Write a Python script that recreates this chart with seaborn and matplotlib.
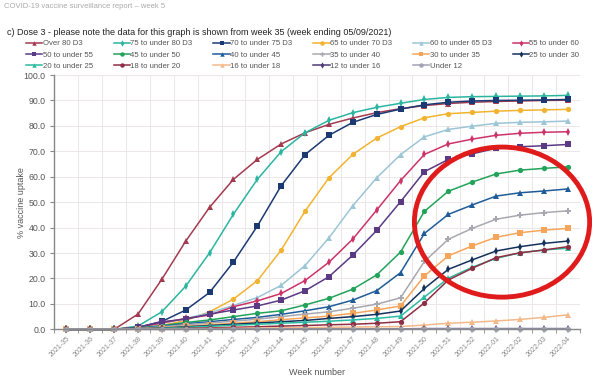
import numpy as np
import pandas as pd
import seaborn as sns
import matplotlib.pyplot as plt
from matplotlib.patches import Ellipse
from matplotlib.ticker import FormatStrFormatter, FixedLocator
###########################################################################

WEEKS = ["2021-35", "2021-36", "2021-37", "2021-38", "2021-39", "2021-40", "2021-41",
         "2021-42", "2021-43", "2021-44", "2021-45", "2021-46", "2021-47", "2021-48",
         "2021-49", "2021-50", "2021-51", "2021-52", "2022-01", "2022-02", "2022-03",
         "2022-04"]

GROUPS = ["Over 80 D3", "75 to under 80 D3", "70 to under 75 D3", "65 to under 70 D3",
          "60 to under 65 D3", "55 to under 60", "50 to under 55", "45 to under 50",
          "40 to under 45", "35 to under 40", "30 to under 35", "25 to under 30",
          "20 to under 25", "18 to under 20", "16 to under 18", "12 to under 16",
          "Under 12"]

over80 = [0, 0, 0, 6.0, 19.7, 34.7, 48.0, 59.0, 66.8, 72.9, 77.3, 80.6, 83.1, 85.2, 86.8, 88.0, 88.8, 89.3, 89.6, 89.8, 90.0, 90.1]
age75 = [0, 0, 0, 1.3, 6.9, 17.0, 30.1, 45.3, 59.0, 69.9, 77.3, 82.2, 85.2, 87.3, 88.9, 90.4, 91.2, 91.5, 91.6, 91.7, 91.8, 92.0]
age70 = [0, 0, 0, 0.8, 3.1, 7.6, 14.5, 26.5, 40.6, 56.5, 68.7, 76.3, 81.4, 84.5, 86.6, 88.3, 89.3, 89.8, 90.0, 90.1, 90.2, 90.4]
age65 = [0, 0, 0, 0.3, 1.5, 3.5, 6.9, 11.9, 19.1, 31.2, 46.5, 59.6, 68.8, 75.2, 79.7, 83.2, 84.8, 85.3, 85.8, 86.1, 86.3, 86.5]
age60 = [0, 0, 0, 0.8, 2.3, 4.3, 6.5, 9.4, 12.5, 17.3, 25.1, 36.0, 48.6, 59.6, 68.7, 75.7, 78.6, 79.9, 81.0, 81.4, 81.6, 81.9]
age55 = [0, 0, 0, 0.8, 2.5, 4.3, 5.6, 8.9, 11.2, 14.1, 19.2, 26.4, 35.5, 46.9, 58.5, 68.8, 72.9, 74.8, 76.3, 77.1, 77.5, 77.7]
age50 = [0, 0, 0, 0.8, 3.0, 4.0, 6.0, 7.6, 9.2, 11.5, 15.2, 20.7, 29.2, 38.9, 50.2, 62.0, 66.8, 69.0, 71.2, 71.8, 72.2, 72.7]
age45 = [0, 0, 0, 0.5, 1.5, 2.7, 3.7, 5.0, 6.3, 7.3, 9.6, 12.2, 15.8, 21.4, 30.4, 46.4, 54.3, 57.9, 61.1, 62.6, 63.3, 63.9]
age40 = [0, 0, 0, 0.4, 1.2, 2.2, 3.0, 3.9, 4.7, 5.9, 7.3, 8.9, 11.5, 15.2, 22.3, 37.7, 45.2, 48.9, 52.4, 53.7, 54.4, 55.2]
age35 = [0, 0, 0, 0.3, 1.0, 1.8, 2.5, 3.2, 4.0, 5.0, 6.0, 6.9, 8.3, 9.9, 12.4, 26.7, 35.4, 39.7, 43.3, 44.9, 45.9, 46.6]
age30 = [0, 0, 0, 0.2, 0.7, 1.2, 1.8, 2.4, 3.0, 3.8, 4.5, 5.2, 6.3, 7.6, 9.2, 21.0, 28.9, 32.8, 36.2, 38.0, 39.0, 39.7]
age25 = [0, 0, 0, 0.2, 0.5, 1.0, 1.5, 2.0, 2.5, 3.0, 3.5, 4.3, 5.0, 5.9, 7.2, 16.1, 23.6, 27.3, 30.8, 32.5, 33.8, 34.7]
age20 = [0, 0, 0, 0.1, 0.4, 0.8, 1.2, 1.6, 2.0, 2.4, 2.8, 3.2, 3.7, 4.3, 5.2, 12.7, 20.1, 24.4, 27.9, 30.1, 31.2, 31.9]
age18 = [0, 0, 0, 0.1, 0.2, 0.4, 0.6, 0.8, 1.0, 1.3, 1.5, 1.8, 2.0, 2.4, 3.0, 10.4, 19.4, 24.0, 28.2, 30.1, 31.2, 32.5]
age16 = [0, 0, 0, 0, 0.1, 0.2, 0.3, 0.4, 0.5, 0.6, 0.7, 0.8, 0.9, 1.0, 1.1, 1.7, 2.4, 2.8, 3.3, 3.9, 4.7, 5.7]
age12 = [0, 0, 0, 0, 0, 0, 0.1, 0.1, 0.1, 0.1, 0.2, 0.2, 0.2, 0.2, 0.2, 0.3, 0.3, 0.3, 0.3, 0.3, 0.3, 0.3]
under12 = [0, 0, 0, 0, 0, 0, 0, 0, 0, 0, 0, 0, 0, 0, 0, 0, 0, 0, 0, 0, 0, 0]

SERIES = [over80, age75, age70, age65, age60, age55, age50, age45, age40,
          age35, age30, age25, age20, age18, age16, age12, under12]

COLORS = ["#A23B4F", "#2BB5A0", "#1B3A73", "#F2B330", "#9CC5D6", "#CC3366",
          "#5A3A85", "#22A35A", "#1F5C99", "#A8A8B0", "#F5A65B", "#14315C",
          "#2BBBA0", "#8E2F45", "#F3B98A", "#4B3B78", "#A0A4B4"]
MARKERS = ["^", "d", "s", "o", "^", "d", "s", "o", "^", "P", "s", "d",
           "^", "o", "^", "d", "o"]

df = pd.concat([pd.DataFrame({"pos": np.arange(len(WEEKS)), "week": WEEKS,
                              "uptake": vals, "group": g})
                for g, vals in zip(GROUPS, SERIES)], ignore_index=True)

plt.rcParams['font.family'] = ['Liberation Sans', 'DejaVu Sans']
fig = plt.figure(figsize=(5.92, 3.79), dpi=100)
ax = fig.add_axes([0.092, 0.131, 0.887, 0.671])

sns.lineplot(data=df, x="pos", y="uptake", hue="group", style="group",
             hue_order=GROUPS, style_order=GROUPS,
             palette=dict(zip(GROUPS, COLORS)), markers=dict(zip(GROUPS, MARKERS)),
             dashes=False, errorbar=None, linewidth=1.1, markersize=3.8,
             markeredgewidth=0, clip_on=False, ax=ax)

handles, labels = ax.get_legend_handles_labels()
ax.get_legend().remove()
# legend fills column-wise, reorder so it reads row by row
order = []
for c in range(6):
    for r in range(3):
        k = r * 6 + c
        if k < len(GROUPS):
            order.append(k)
for h in handles:
    h.set_markersize(3.2)
fig.legend([handles[k] for k in order], [labels[k] for k in order], ncol=6,
           loc="upper left", bbox_to_anchor=(0.037, 0.905), frameon=False,
           fontsize=5.6, handlelength=2.1, handletextpad=0.05, columnspacing=2.7,
           labelspacing=0.5, labelcolor="#555555", borderpad=0)

ax.set_xlim(-0.5, len(WEEKS) - 0.5)
ax.set_ylim(0, 100)
ax.set_xticks(np.arange(len(WEEKS)))
ax.set_xticklabels(WEEKS, rotation=45, ha="right", rotation_mode="anchor",
                   fontsize=5.0, color="#888888")
ax.xaxis.set_minor_locator(FixedLocator(np.arange(len(WEEKS) + 1) - 0.5))
ax.set_yticks(np.arange(0, 101, 10))
ax.yaxis.set_major_formatter(FormatStrFormatter("%.1f"))
ax.tick_params(axis="y", labelsize=6.3, labelcolor="#555555", length=3, color="#888888")
ax.tick_params(axis="x", which="major", length=0, pad=4)
ax.tick_params(axis="x", which="minor", length=3, color="#888888")
ax.grid(False)
ax.grid(True, axis="y", which="major", color="#EDE6E6", linewidth=0.7)
ax.grid(True, axis="x", which="minor", color="#EDE6E6", linewidth=0.7)
ax.set_axisbelow(True)
for s in ["top", "right"]:
    ax.spines[s].set_visible(False)
for s in ["left", "bottom"]:
    ax.spines[s].set_color("#888888")
    ax.spines[s].set_linewidth(1.0)

ax.set_xlabel("Week number", fontsize=6.5, color="#555555", labelpad=7)
ax.set_ylabel("% vaccine uptake", fontsize=6.5, color="#555555", labelpad=-2)

fig.text(0.007, 0.992, "COVID-19 vaccine surveillance report \u2013 week 5",
         fontsize=5.5, color="#AAAAAA", va="top")
fig.text(0.012, 0.913,
         "c) Dose 3 - please note the data for this graph is shown from week 35 (week ending 05/09/2021)",
         fontsize=6.5, color="#222222", va="center")

fig.patches.append(Ellipse((0.848, 0.414), 0.296, 0.396, transform=fig.transFigure,
                           fill=False, edgecolor="#E01B1B", linewidth=3.5))

fig.savefig("out.png", dpi=100)
